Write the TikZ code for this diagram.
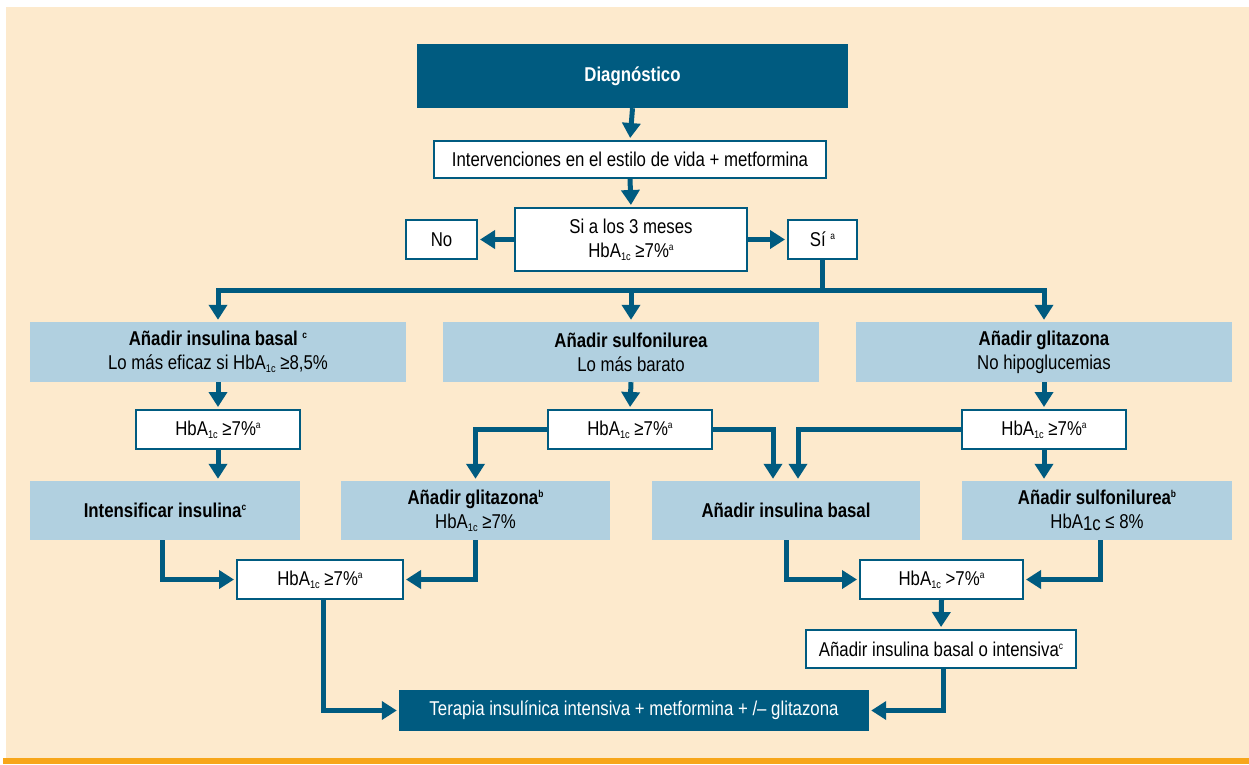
\documentclass[tikz,border=0pt]{standalone}
\usepackage{fontspec}
\setmainfont{Liberation Sans}[FakeStretch=0.84]
\usetikzlibrary{arrows.meta}
\definecolor{dblue}{RGB}{0,91,128}
\definecolor{lblue}{RGB}{177,208,224}
\definecolor{cream}{RGB}{253,234,205}
\definecolor{orng}{RGB}{247,166,26}
\newcommand\hba{HbA\raisebox{-3pt}{\fontsize{11}{11}\selectfont 1c}}
\newcommand\supr[1]{\raisebox{7pt}{\fontsize{10}{10}\selectfont #1}}
\tikzset{
 every node/.style={font=\fontsize{20}{24}\selectfont, inner sep=0pt, align=center},
 darkbox/.style={fill=dblue, text=white},
 lightbox/.style={fill=lblue, text=black},
 whitebox/.style={fill=white, draw=dblue, line width=2pt},
 conn/.style={draw=dblue, line width=5pt},
 arr/.style={conn, -{Triangle[width=18pt,length=15pt]}, shorten >=2pt},
}
\begin{document}
\begin{tikzpicture}[x=1pt,y=-1pt]
\useasboundingbox (0,0) rectangle (1249,764);
\fill[cream] (6,7) rectangle (1249,758);
\fill[orng] (3,758) rectangle (1249,764);

\node[darkbox, minimum width=431, minimum height=64] (diag) at (632.5,76) {\textbf{Diagnóstico}};
\node[whitebox, minimum width=392, minimum height=37] (interv) at (630,159.5) {Intervenciones en el estilo de vida + metformina};
\node[whitebox, minimum width=232, minimum height=63] (q) at (631,239.5) {Si a los 3 meses\\ \hba{} ≥7\%\supr{a}};
\node[whitebox, minimum width=71, minimum height=39] (no) at (441.5,239.5) {No};
\node[whitebox, minimum width=69, minimum height=39] (si) at (822.5,239.5) {Sí \supr{a}};

\node[lightbox, minimum width=376, minimum height=60] (b1) at (218,352) {\textbf{Añadir insulina basal \supr{c}}\\Lo más eficaz si \hba{} ≥8,5\%};
\node[lightbox, minimum width=376, minimum height=60] (b2) at (631,352) {\textbf{Añadir sulfonilurea}\\Lo más barato};
\node[lightbox, minimum width=376, minimum height=60] (b3) at (1044,352) {\textbf{Añadir glitazona}\\No hipoglucemias};

\node[whitebox, minimum width=164, minimum height=39] (h1) at (218,429.5) {\hba{} ≥7\%\supr{a}};
\node[whitebox, minimum width=164, minimum height=39] (h2) at (630,429.5) {\hba{} ≥7\%\supr{a}};
\node[whitebox, minimum width=164, minimum height=39] (h3) at (1044,429.5) {\hba{} ≥7\%\supr{a}};

\node[lightbox, minimum width=270, minimum height=59] (r1) at (165,510.5) {\textbf{Intensificar insulina\supr{c}}};
\node[lightbox, minimum width=269, minimum height=59] (r2) at (475.5,510.5) {\textbf{Añadir glitazona\supr{b}}\\\hba{} ≥7\%};
\node[lightbox, minimum width=268, minimum height=59] (r3) at (786,510.5) {\textbf{Añadir insulina basal}};
\node[lightbox, minimum width=270, minimum height=59] (r4) at (1097,510.5) {\textbf{Añadir sulfonilurea\supr{b}}\\HbA\raisebox{-2pt}{1c} ≤ 8\%};

\node[whitebox, minimum width=166, minimum height=39] (hL) at (320,579.5) {\hba{} ≥7\%\supr{a}};
\node[whitebox, minimum width=163, minimum height=39] (hR) at (941.5,579.5) {\hba{} >7\%\supr{a}};
\node[whitebox, minimum width=270, minimum height=38] (ai) at (941,649) {Añadir insulina basal o intensiva\supr{c}};
\node[darkbox, minimum width=470, minimum height=41] (fin) at (634,710.5) {Terapia insulínica intensiva + metformina + /– glitazona};

\coordinate (bar) at (0,290);

\draw[arr] (diag.south) -- (interv.north);
\draw[arr] (interv.south) -- (q.north);
\draw[arr] (q.west) -- (no.east);
\draw[arr] (q.east) -- (si.west);
\draw[conn] (si.south) -- (si.south |- bar);
\draw[conn, line cap=rect] (b1.north |- bar) -- (b3.north |- bar);
\draw[arr] (b1.north |- bar) -- (b1.north);
\draw[arr] (b2.north |- bar) -- (b2.north);
\draw[arr] (b3.north |- bar) -- (b3.north);

\draw[arr] (b1.south) -- (h1.north);
\draw[arr] (b2.south) -- (h2.north);
\draw[arr] (b3.south) -- (h3.north);
\draw[arr] (h1.south) -- (h1.south |- r1.north);
\draw[arr] (h2.west) -| (r2.north);
\draw[arr] (h2.east) -| ([xshift=-13pt]r3.north);
\draw[arr] (h3.west) -| ([xshift=12pt]r3.north);
\draw[arr] (h3.south) -- (h3.south |- r4.north);

\draw[arr] ([xshift=-3pt]r1.south) |- (hL.west);
\draw[arr] (r2.south) |- (hL.east);
\draw[arr] (r3.south) |- (hR.west);
\draw[arr] ([xshift=3pt]r4.south) |- (hR.east);
\draw[arr] (hR.south) -- (ai.north);
\draw[arr] ([xshift=3pt]hL.south) |- (fin.west);
\draw[arr] ([xshift=2pt]ai.south) |- (fin.east);
\end{tikzpicture}
\end{document}
